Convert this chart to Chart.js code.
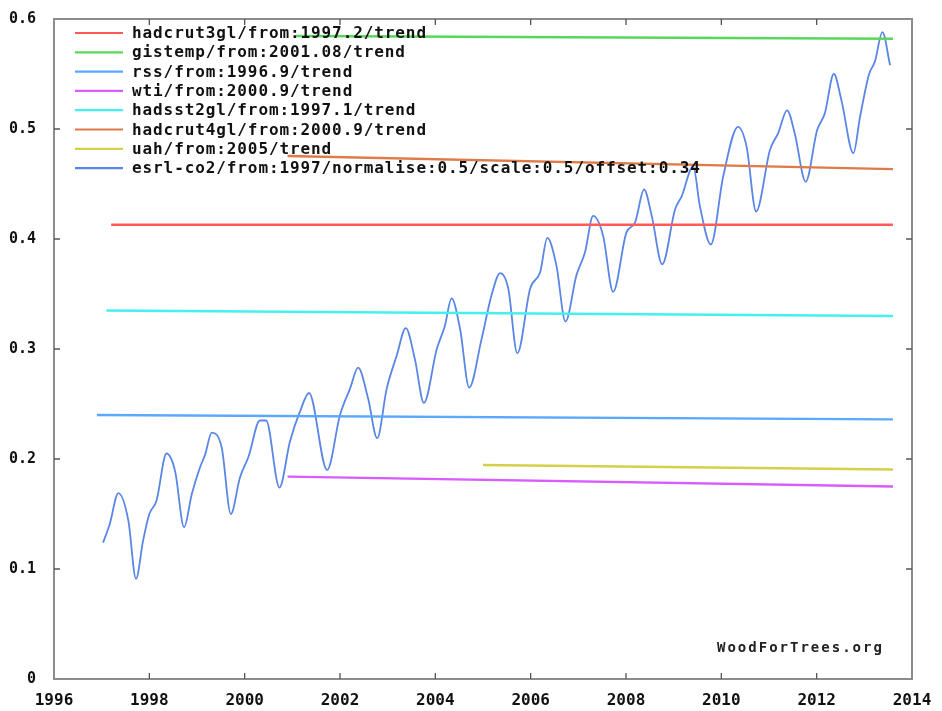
<!DOCTYPE html>
<html><head><meta charset="utf-8">
<script src="https://cdn.jsdelivr.net/npm/chart.js@4.4.0/dist/chart.umd.min.js"></script>
<style>html,body{margin:0;padding:0;background:#fff}#wrap{width:942px;height:711px;position:relative}</style>
</head><body><div id="wrap"><canvas id="c"></canvas></div>
<script>
// ---- data ----
const xTickLabels = [1996, 1998, 2000, 2002, 2004, 2006, 2008, 2010, 2012, 2014];
const yTickLabels = [0, 0.1, 0.2, 0.3, 0.4, 0.5, 0.6];

const trendNames = [
  'hadcrut3gl/from:1997.2/trend',
  'gistemp/from:2001.08/trend',
  'rss/from:1996.9/trend',
  'wti/from:2000.9/trend',
  'hadsst2gl/from:1997.1/trend',
  'hadcrut4gl/from:2000.9/trend',
  'uah/from:2005/trend'
];
const trendFrom = [1997.2, 2001.08, 1996.9, 2000.9, 1997.1, 2000.9, 2005.0];
const trendTo = [2013.6, 2013.6, 2013.6, 2013.6, 2013.6, 2013.6, 2013.6];
const trendStartValues = [0.413, 0.5846, 0.240, 0.184, 0.335, 0.4755, 0.1945];
const trendEndValues   = [0.413, 0.582, 0.236, 0.175, 0.330, 0.4635, 0.1905];

const co2Name = 'esrl-co2/from:1997/normalise:0.5/scale:0.5/offset:0.34';
const co2Years = [
  1997.03, 1997.17, 1997.35, 1997.56, 1997.72, 1997.87,
  1998.00, 1998.15, 1998.36, 1998.54, 1998.73, 1998.89,
  1999.06, 1999.17, 1999.31, 1999.52, 1999.71, 1999.90,
  2000.08, 2000.32, 2000.45, 2000.73, 2000.95,
  2001.16, 2001.35, 2001.73,
  2002.00, 2002.21, 2002.38, 2002.59, 2002.78, 2002.98,
  2003.19, 2003.38, 2003.57, 2003.76,
  2004.03, 2004.20, 2004.34, 2004.52, 2004.71, 2004.97,
  2005.18, 2005.36, 2005.53, 2005.72, 2005.99,
  2006.20, 2006.35, 2006.54, 2006.73, 2006.96,
  2007.14, 2007.31, 2007.52, 2007.73,
  2008.01, 2008.19, 2008.38, 2008.54, 2008.76,
  2009.03, 2009.17, 2009.41, 2009.55, 2009.78,
  2010.04, 2010.35, 2010.53, 2010.73,
  2011.02, 2011.19, 2011.38, 2011.54, 2011.77,
  2012.01, 2012.17, 2012.36, 2012.52, 2012.77, 2012.91,
  2013.10, 2013.22, 2013.38, 2013.54
];
const co2Values = [
  0.124, 0.141, 0.169, 0.144, 0.091, 0.126,
  0.150, 0.162, 0.205, 0.189, 0.138, 0.168,
  0.192, 0.204, 0.224, 0.210, 0.150, 0.183,
  0.202, 0.235, 0.235, 0.174, 0.216,
  0.243, 0.260, 0.190,
  0.240, 0.264, 0.283, 0.255, 0.219, 0.264,
  0.294, 0.319, 0.291, 0.251,
  0.300, 0.321, 0.346, 0.318, 0.265, 0.309,
  0.349, 0.369, 0.355, 0.296, 0.355,
  0.370, 0.401, 0.376, 0.325, 0.367,
  0.388, 0.421, 0.403, 0.352,
  0.406, 0.415, 0.445, 0.421, 0.377,
  0.427, 0.439, 0.466, 0.430, 0.395,
  0.457, 0.502, 0.484, 0.425,
  0.481, 0.496, 0.517, 0.496, 0.452,
  0.499, 0.514, 0.550, 0.526, 0.478, 0.511,
  0.550, 0.561, 0.588, 0.558
];

// ---- styles ----
const trendColors = ['#ff5a5a', '#5ad75a', '#5aa8ff', '#d95cff', '#45f0f0', '#de7b48', '#d4d04a'];
const co2Color = '#5a86e6';
const monoFont = '"DejaVu Sans Mono", "Liberation Mono", monospace';

const datasets = trendNames.map((name, i) => ({
  label: name,
  data: [{x: trendFrom[i], y: trendStartValues[i]}, {x: trendTo[i], y: trendEndValues[i]}],
  borderColor: trendColors[i],
  borderWidth: 2.4,
  pointRadius: 0,
  tension: 0
}));
datasets.push({
  label: co2Name,
  data: co2Years.map((x, i) => ({x, y: co2Values[i]})),
  borderColor: co2Color,
  borderWidth: 1.8,
  pointRadius: 0,
  cubicInterpolationMode: 'monotone'
});

const framePlugin = {
  id: 'frame',
  afterDatasetsDraw(chart) {
    const {ctx, chartArea: a, scales} = chart;
    ctx.save();
    ctx.strokeStyle = '#8c8c8c';
    ctx.lineWidth = 2;
    ctx.strokeRect(a.left, a.top, a.right - a.left, a.bottom - a.top);
    ctx.lineWidth = 1.3;
    ctx.strokeStyle = '#555';
    const tl = 6;
    scales.y.ticks.forEach(t => {
      const py = scales.y.getPixelForValue(t.value);
      if (Math.abs(py - a.top) < 2 || Math.abs(py - a.bottom) < 2) return;
      ctx.beginPath();
      ctx.moveTo(a.left, py); ctx.lineTo(a.left + tl, py);
      ctx.moveTo(a.right, py); ctx.lineTo(a.right - tl, py);
      ctx.stroke();
    });
    scales.x.ticks.forEach(t => {
      const px = scales.x.getPixelForValue(t.value);
      if (Math.abs(px - a.left) < 2 || Math.abs(px - a.right) < 2) return;
      ctx.beginPath();
      ctx.moveTo(px, a.bottom); ctx.lineTo(px, a.bottom - tl);
      ctx.moveTo(px, a.top); ctx.lineTo(px, a.top + tl);
      ctx.stroke();
    });
    ctx.restore();
  },
  afterDraw(chart) {
    const {ctx} = chart;
    ctx.save();
    // legend
    ctx.font = 'bold 16px ' + monoFont;
    ctx.letterSpacing = '0.9px';
    ctx.textBaseline = 'middle';
    ctx.textAlign = 'left';
    chart.data.datasets.forEach((ds, i) => {
      const y = 33 + i * 19.3;
      ctx.strokeStyle = ds.borderColor;
      ctx.lineWidth = 2.2;
      ctx.beginPath();
      ctx.moveTo(75, y); ctx.lineTo(123, y);
      ctx.stroke();
      ctx.fillStyle = '#111';
      ctx.fillText(ds.label, 132, y + 1);
    });
    // watermark
    ctx.font = 'bold 14px ' + monoFont;
    ctx.letterSpacing = '2px';
    ctx.fillStyle = '#222';
    ctx.fillText('WoodForTrees.org', 717, 648);
    ctx.restore();
  }
};

new Chart(document.getElementById('c'), {
  type: 'line',
  data: { datasets },
  plugins: [framePlugin],
  options: {
    responsive: true,
    maintainAspectRatio: false,
    animation: false,
    layout: { padding: { top: 0, right: 30, left: 0, bottom: 0 } },
    plugins: { legend: { display: false }, tooltip: { enabled: false } },
    scales: {
      x: {
        type: 'linear',
        min: xTickLabels[0],
        max: xTickLabels[xTickLabels.length - 1],
        afterBuildTicks(scale) { scale.ticks = xTickLabels.map(v => ({value: v})); },
        afterFit(scale) { scale.height = 32; },
        grid: { display: false },
        border: { display: false },
        ticks: {
          padding: 4,
          maxRotation: 0,
          autoSkip: false,
          color: '#111',
          font: { family: monoFont, size: 16, weight: 'bold' },
          callback: v => String(v)
        }
      },
      y: {
        min: 0,
        max: 0.6,
        afterBuildTicks(scale) { scale.ticks = yTickLabels.map(v => ({value: v})); },
        afterFit(scale) { scale.width = 54; },
        grid: { display: false },
        border: { display: false },
        ticks: {
          padding: 10,
          color: '#111',
          font: { family: monoFont, size: 15, weight: 'bold' },
          callback: v => (v === 0 ? '0' : v.toFixed(1))
        }
      }
    }
  }
});
</script>
</body></html>
